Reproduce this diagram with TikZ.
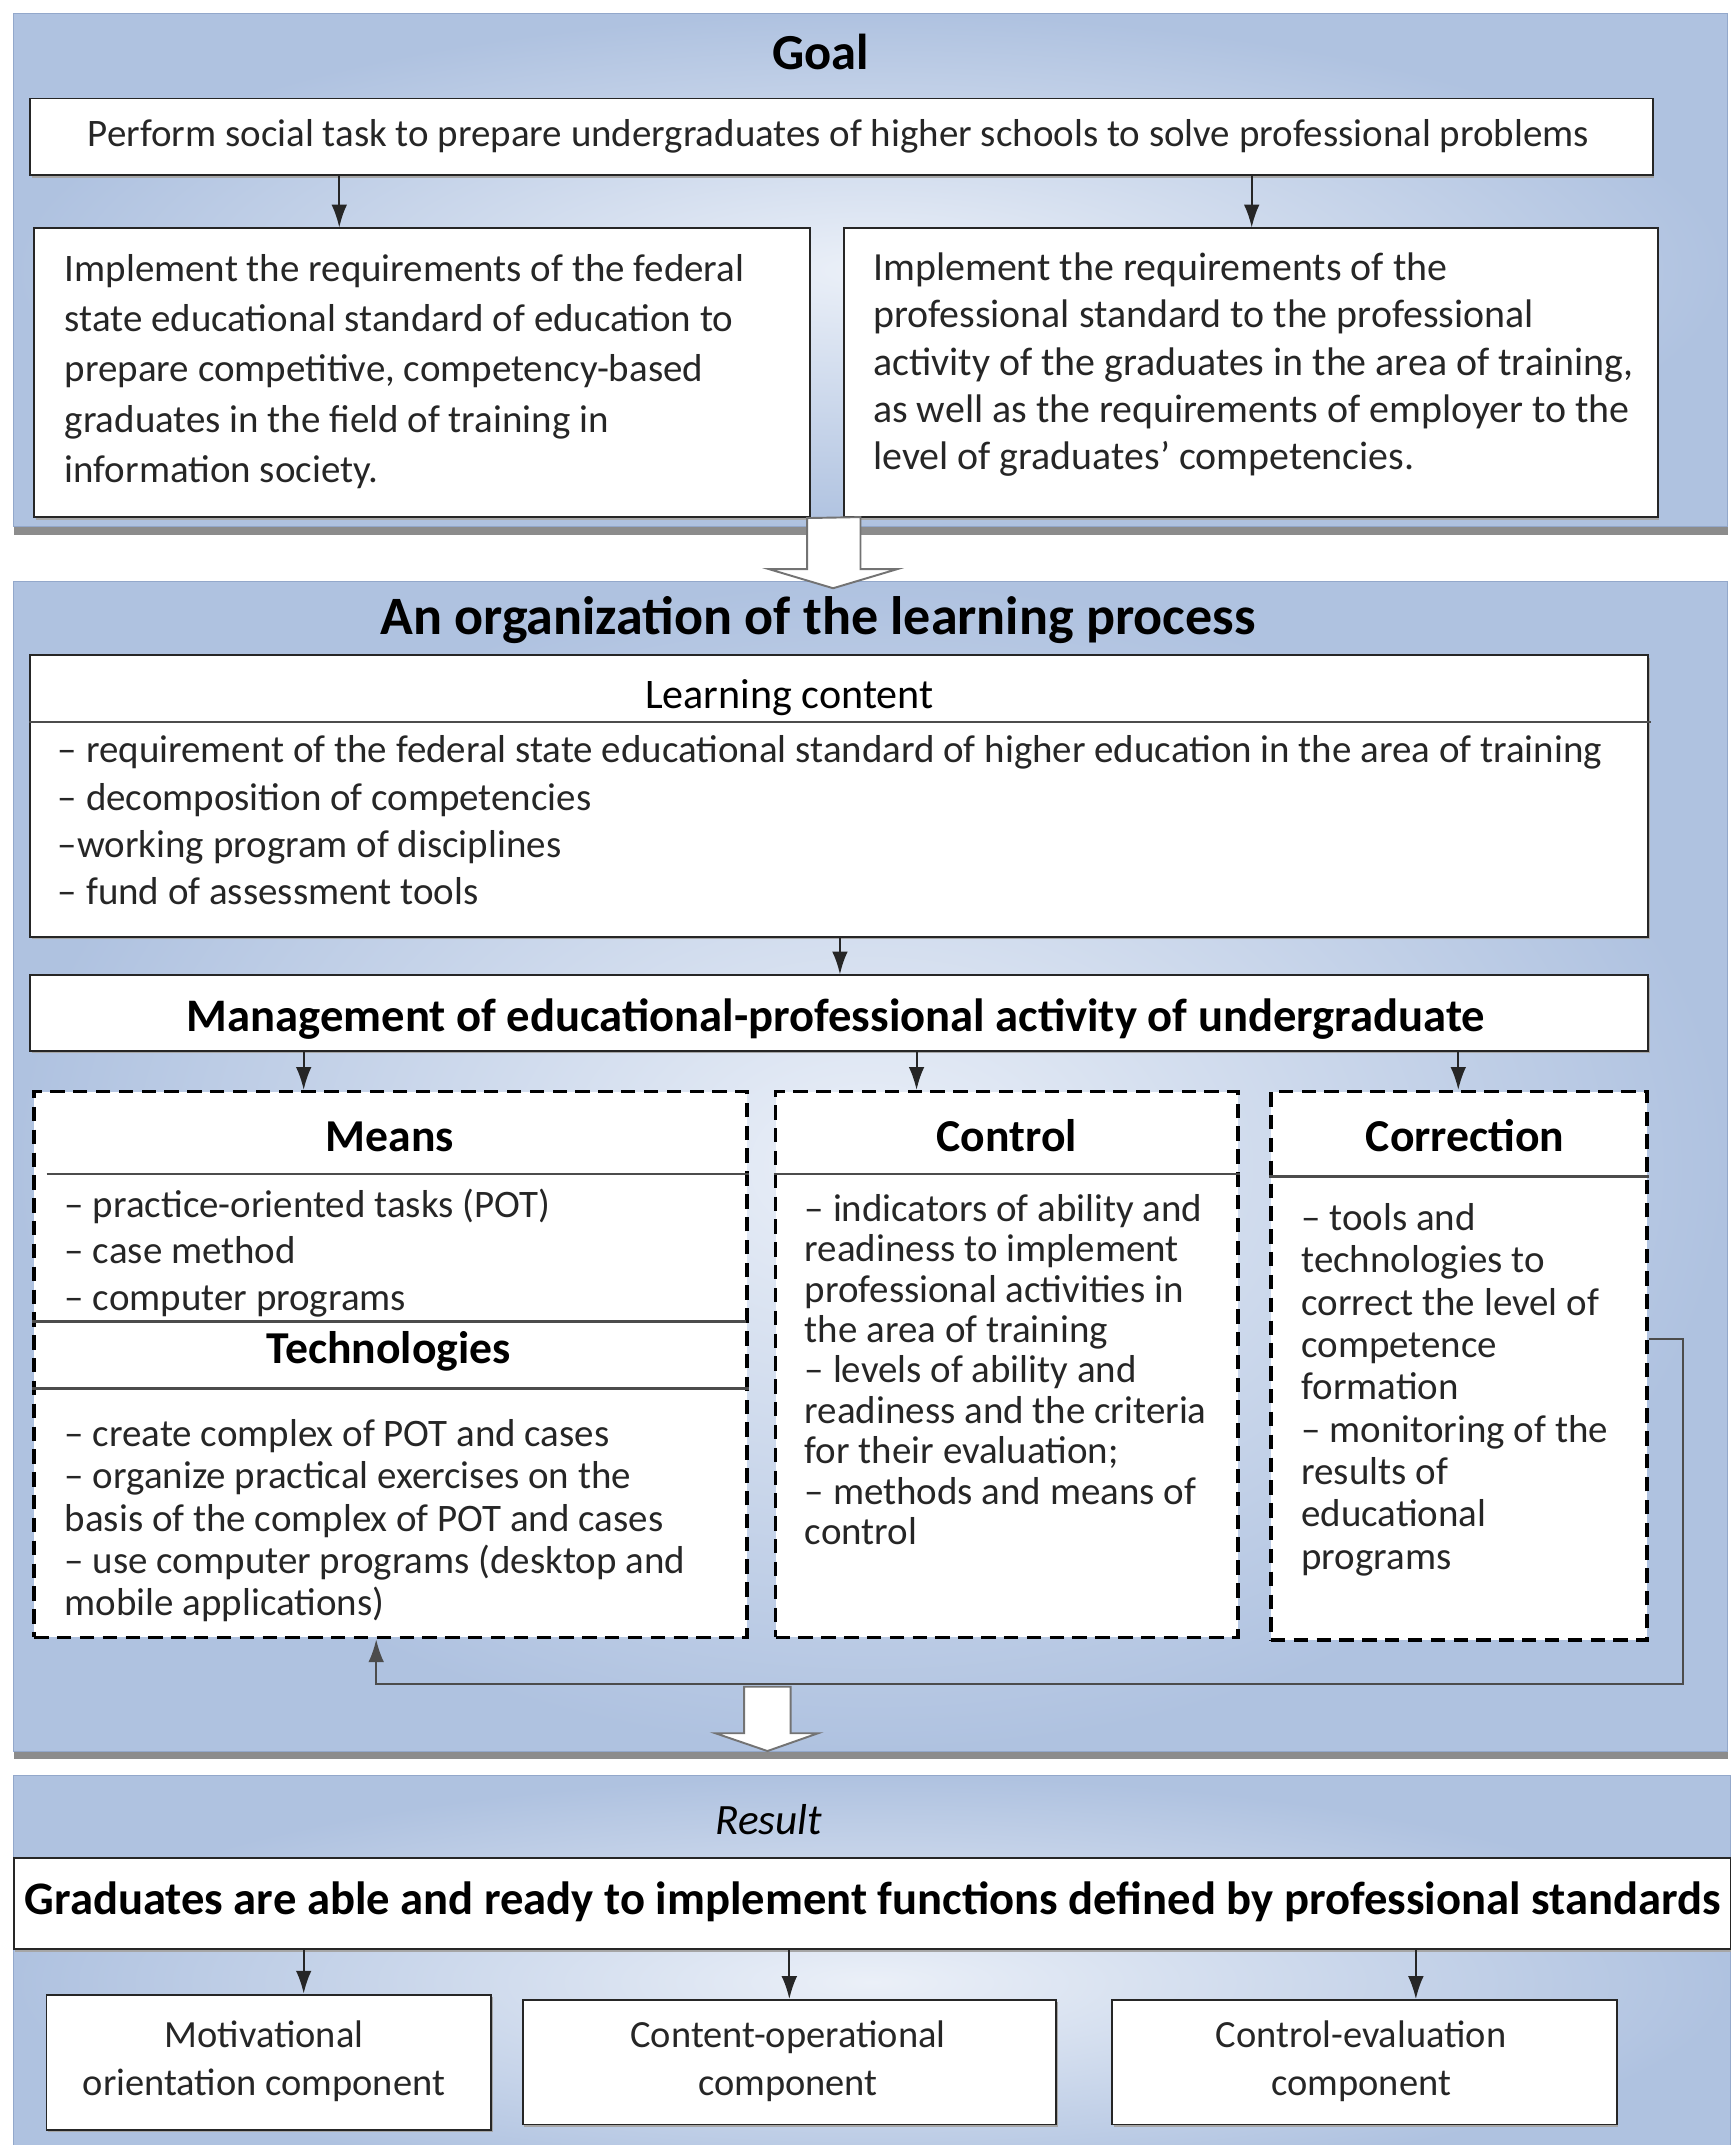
\documentclass[tikz,border=0pt]{standalone}
\usepackage{fontspec}
\setmainfont{Carlito}
\usepackage{xcolor}
\usetikzlibrary{positioning, calc, fit, shadows, arrows.meta}

\definecolor{panelin}{HTML}{EBF0F8}
\definecolor{panelout}{HTML}{AFC2E0}
\definecolor{panelline}{HTML}{93A8CB}
\definecolor{inkgray}{HTML}{262626}

\tikzset{
  panel/.style={draw=panelline, inner color=panelin, outer color=panelout, inner sep=0pt,
    drop shadow={shadow xshift=0pt, shadow yshift=-3.5pt, fill=black!45, opacity=1}},
  wbox/.style={draw=inkgray, fill=white, line width=0.8pt, inner sep=0pt,
    drop shadow={shadow xshift=0.6pt, shadow yshift=-1pt, fill=black!35, opacity=1}},
  dbox/.style={draw=black, fill=white, line width=1.5pt, dash pattern=on 6pt off 3.5pt, inner sep=0pt},
  hollow/.style={draw=black!55, fill=white, line width=0.8pt, line join=miter},
  list/.style={anchor=base west, align=left, inner sep=0pt, text=inkgray},
  head/.style={font=\bfseries\fontsize{19}{21}\selectfont, text=black},
  sep/.style={draw=black!70, line width=0.9pt},
  link/.style={->, draw=inkgray, line width=0.8pt},
}

\begin{document}
\begin{tikzpicture}[x=0.02cm, y=-0.02cm, >={Latex[length=9.5pt,width=6.5pt]},
    font=\fontsize{16.2}{21}\selectfont]
  \useasboundingbox (0,0) rectangle (1265,1568);

  % goal
  \node[panel, fit={(10,10) (1263,385)}] (goalpanel) {};
  \node[font=\bfseries\fontsize{21}{24}\selectfont] (goal) at (600,38) {Goal};
  \node[wbox, fit={(22,72) (1208,128)}] (perform) {};
  \node[text=inkgray] (performtext) at (613,100)
    {Perform social task to prepare undergraduates of higher schools to solve professional problems};
  \node[wbox, fit={(25,167) (592,378)}] (fgos) {};
  \node[wbox, fit={(617,167) (1212,378)}] (profstd) {};
  \node[list, font=\fontsize{16.2}{21}\selectfont] (fgostext) at (47,353)
    {Implement the requirements of the federal\\
     state educational standard of education to\\
     prepare competitive, competency-based\\
     graduates in the field of training in\\
     information society.};
  \node[list, font=\fontsize{16.6}{19.6}\selectfont] (profstdtext) at (638,343)
    {Implement the requirements of the\\
     professional standard to the professional\\
     activity of the graduates in the area of training,\\
     as well as the requirements of employer to the\\
     level of graduates' competencies.};
  \draw[link] (perform.south -| 248,0) -- (fgos.north -| 248,0);
  \draw[link] (perform.south -| 915,0) -- (profstd.north -| 915,0);

  % organization
  \node[panel, fit={(10,425) (1263,1280)}] (orgpanel) {};
  \draw[hollow] (fgos.south -| 590,0) -- (629,378) -- (629,416) -- (656,416) -- (609,430)
    -- (562,416) -- (590,416) -- cycle;
  \node[font=\bfseries\fontsize{22.5}{25}\selectfont] (org) at (598,453) {An organization of the learning process};
  \node[wbox, fit={(22,479) (1205,685)}] (content) {};
  \node[font=\fontsize{17.5}{20}\selectfont] (contenthead) at (577,510) {Learning content};
  \draw[sep] (content.west |- 0,528) -- (1207,528);
  \node[list, font=\fontsize{16.2}{19.6}\selectfont] (contentlist) at (42,661)
    {-- requirement of the federal state educational standard of higher education in the area of training\\
     -- decomposition of competencies\\
     --working program of disciplines\\
     -- fund of assessment tools};
  \node[wbox, fit={(22,713) (1205,768)}] (manage) {};
  \node[font=\bfseries\fontsize{19.4}{21}\selectfont] (managetext) at (611,745)
    {Management of educational-professional activity of undergraduate};
  \draw[link] (content.south -| 614,0) -- (manage.north -| 614,0);

  \node[dbox, fit={(25,798) (546,1197)}] (means) {};
  \node[dbox, fit={(567,798) (905,1197)}] (control) {};
  \node[dbox, fit={(929,798) (1204,1199)}] (correction) {};
  \draw[link] (manage.south -| 222,0) -- (means.north -| 222,0);
  \draw[link] (manage.south -| 670,0) -- (control.north -| 670,0);
  \draw[link] (manage.south -| 1066,0) -- (correction.north -| 1066,0);

  \node[head] (meanshead) at (285,831) {Means};
  \draw[sep] (34,858) -- (means.east |- 0,858);
  \node[list, font=\fontsize{16.2}{19.4}\selectfont] (meanslist) at (47,958)
    {-- practice-oriented tasks (POT)\\
     -- case method\\
     -- computer programs};
  \draw[sep] (means.west |- 0,966) -- (545,966);
  \node[head] (techhead) at (284,988) {Technologies};
  \draw[sep] (means.west |- 0,1015) -- (means.east |- 0,1015);
  \node[list, font=\fontsize{16.2}{17.6}\selectfont] (techlist) at (47,1181)
    {-- create complex of POT and cases\\
     -- organize practical exercises on the\\
     basis of the complex of POT and cases\\
     -- use computer programs (desktop and\\
     mobile applications)};

  \node[head] (controlhead) at (736,830) {Control};
  \draw[sep] (control.west |- 0,858) -- (control.east |- 0,858);
  \node[list, font=\fontsize{16.2}{16.8}\selectfont] (controllist) at (588,1129)
    {-- indicators of ability and\\
     readiness to implement\\
     professional activities in\\
     the area of training\\
     -- levels of ability and\\
     readiness and the criteria\\
     for their evaluation;\\
     -- methods and means of\\
     control};

  \node[head] (correctionhead) at (1071,830) {Correction};
  \draw[sep] (correction.west |- 0,860) -- (correction.east |- 0,860);
  \node[list, font=\fontsize{16.2}{17.6}\selectfont] (correctionlist) at (951,1147)
    {-- tools and\\
     technologies to\\
     correct the level of\\
     competence\\
     formation\\
     -- monitoring of the\\
     results of\\
     educational\\
     programs};

  \draw[link, draw=black!70] (correction.east |- 0,979) -- (1230,979) -- (1230,1231) -- (275,1231)
    -- (means.south -| 275,0);
  \draw[hollow] (544,1233) -- (578,1233) -- (578,1267) -- (598,1267) -- (561,1280)
    -- (523,1267) -- (544,1267) -- cycle;

  % result
  \node[panel, fit={(10,1298) (1265,1600)}] (resultpanel) {};
  \node[font=\itshape\fontsize{18}{20}\selectfont] (result) at (562,1330) {Result};
  \node[wbox, fit={(10,1358) (1265,1425)}] (graduates) {};
  \node[font=\bfseries\fontsize{19.4}{21}\selectfont] (graduatestext) at (638,1390)
    {Graduates are able and ready to implement functions defined by professional standards};
  \node[wbox, fit={(34,1458) (359,1557)}] (motiv) {};
  \node[wbox, fit={(382,1462) (772,1553)}] (contop) {};
  \node[wbox, fit={(813,1462) (1182,1553)}] (ctrleval) {};
  \node[align=center, font=\fontsize{16}{20}\selectfont, text=inkgray] (motivtext) at (193,1507)
    {Motivational\\ orientation component};
  \node[align=center, font=\fontsize{16}{20}\selectfont, text=inkgray] (contoptext) at (576,1507)
    {Content-operational\\ component};
  \node[align=center, font=\fontsize{16}{20}\selectfont, text=inkgray] (ctrlevaltext) at (995,1507)
    {Control-evaluation\\ component};
  \draw[link] (graduates.south -| 222,0) -- (motiv.north -| 222,0);
  \draw[link] (graduates.south -| 577,0) -- (contop.north -| 577,0);
  \draw[link] (graduates.south -| 1035,0) -- (ctrleval.north -| 1035,0);
\end{tikzpicture}
\end{document}
